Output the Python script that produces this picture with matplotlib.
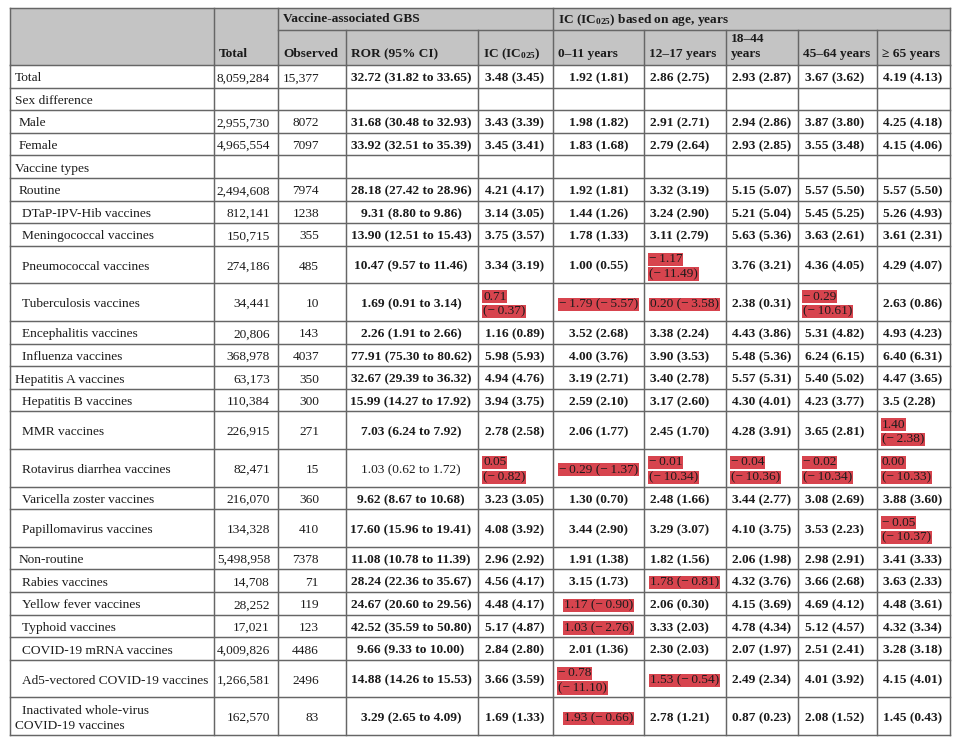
import matplotlib
matplotlib.use("Agg")
import matplotlib.pyplot as plt
from matplotlib.patches import Rectangle

plt.rcParams['font.family'] = ['Liberation Serif', 'DejaVu Serif']
plt.rcParams['mathtext.fontset'] = 'custom'
plt.rcParams['mathtext.rm'] = 'Liberation Serif'
plt.rcParams['mathtext.bf'] = 'Liberation Serif:bold'
plt.rcParams['mathtext.it'] = 'Liberation Serif:italic'

# ---------------- data ----------------
labels = ["Total", "Sex difference", "Male", "Female", "Vaccine types", "Routine",
          "DTaP-IPV-Hib vaccines", "Meningococcal vaccines", "Pneumococcal vaccines",
          "Tuberculosis vaccines", "Encephalitis vaccines", "Influenza vaccines",
          "Hepatitis A vaccines", "Hepatitis B vaccines", "MMR vaccines",
          "Rotavirus diarrhea vaccines", "Varicella zoster vaccines", "Papillomavirus vaccines",
          "Non-routine", "Rabies vaccines", "Yellow fever vaccines", "Typhoid vaccines",
          "COVID-19 mRNA vaccines", "Ad5-vectored COVID-19 vaccines",
          "Inactivated whole-virus\nCOVID-19 vaccines"]
label_level = [0, 0, 1, 1, 0, 1, 2, 2, 2, 2, 2, 2, 0, 2, 2, 2, 2, 2, 1, 2, 2, 2, 2, 2, 2]

total_reports = ["8,059,284", "", "2,955,730", "4,965,554", "", "2,494,608", "812,141", "150,715",
                 "274,186", "34,441", "20,806", "368,978", "63,173", "110,384", "226,915", "82,471",
                 "216,070", "134,328", "5,498,958", "14,708", "28,252", "17,021", "4,009,826",
                 "1,266,581", "162,570"]
observed = ["15,377", "", "8072", "7097", "", "7974", "1238", "355", "485", "10", "143", "4037",
            "350", "300", "271", "15", "360", "410", "7378", "71", "119", "123", "4486", "2496", "83"]
ror = ["32.72 (31.82 to 33.65)", "", "31.68 (30.48 to 32.93)", "33.92 (32.51 to 35.39)", "",
       "28.18 (27.42 to 28.96)", "9.31 (8.80 to 9.86)", "13.90 (12.51 to 15.43)",
       "10.47 (9.57 to 11.46)", "1.69 (0.91 to 3.14)", "2.26 (1.91 to 2.66)",
       "77.91 (75.30 to 80.62)", "32.67 (29.39 to 36.32)", "15.99 (14.27 to 17.92)",
       "7.03 (6.24 to 7.92)", "1.03 (0.62 to 1.72)", "9.62 (8.67 to 10.68)",
       "17.60 (15.96 to 19.41)", "11.08 (10.78 to 11.39)", "28.24 (22.36 to 35.67)",
       "24.67 (20.60 to 29.56)", "42.52 (35.59 to 50.80)", "9.66 (9.33 to 10.00)",
       "14.88 (14.26 to 15.53)", "3.29 (2.65 to 4.09)"]
ic = ["3.48 (3.45)", "", "3.43 (3.39)", "3.45 (3.41)", "", "4.21 (4.17)", "3.14 (3.05)",
      "3.75 (3.57)", "3.34 (3.19)", "0.71 (−0.37)", "1.16 (0.89)", "5.98 (5.93)", "4.94 (4.76)",
      "3.94 (3.75)", "2.78 (2.58)", "0.05 (−0.82)", "3.23 (3.05)", "4.08 (3.92)", "2.96 (2.92)",
      "4.56 (4.17)", "4.48 (4.17)", "5.17 (4.87)", "2.84 (2.80)", "3.66 (3.59)", "1.69 (1.33)"]
ic_0_11 = ["1.92 (1.81)", "", "1.98 (1.82)", "1.83 (1.68)", "", "1.92 (1.81)", "1.44 (1.26)",
           "1.78 (1.33)", "1.00 (0.55)", "−1.79 (−5.57)", "3.52 (2.68)", "4.00 (3.76)",
           "3.19 (2.71)", "2.59 (2.10)", "2.06 (1.77)", "−0.29 (−1.37)", "1.30 (0.70)",
           "3.44 (2.90)", "1.91 (1.38)", "3.15 (1.73)", "1.17 (−0.90)", "1.03 (−2.76)",
           "2.01 (1.36)", "−0.78 (−11.10)", "1.93 (−0.66)"]
ic_12_17 = ["2.86 (2.75)", "", "2.91 (2.71)", "2.79 (2.64)", "", "3.32 (3.19)", "3.24 (2.90)",
            "3.11 (2.79)", "−1.17 (−11.49)", "0.20 (−3.58)", "3.38 (2.24)", "3.90 (3.53)",
            "3.40 (2.78)", "3.17 (2.60)", "2.45 (1.70)", "−0.01 (−10.34)", "2.48 (1.66)",
            "3.29 (3.07)", "1.82 (1.56)", "1.78 (−0.81)", "2.06 (0.30)", "3.33 (2.03)",
            "2.30 (2.03)", "1.53 (−0.54)", "2.78 (1.21)"]
ic_18_44 = ["2.93 (2.87)", "", "2.94 (2.86)", "2.93 (2.85)", "", "5.15 (5.07)", "5.21 (5.04)",
            "5.63 (5.36)", "3.76 (3.21)", "2.38 (0.31)", "4.43 (3.86)", "5.48 (5.36)",
            "5.57 (5.31)", "4.30 (4.01)", "4.28 (3.91)", "−0.04 (−10.36)", "3.44 (2.77)",
            "4.10 (3.75)", "2.06 (1.98)", "4.32 (3.76)", "4.15 (3.69)", "4.78 (4.34)",
            "2.07 (1.97)", "2.49 (2.34)", "0.87 (0.23)"]
ic_45_64 = ["3.67 (3.62)", "", "3.87 (3.80)", "3.55 (3.48)", "", "5.57 (5.50)", "5.45 (5.25)",
            "3.63 (2.61)", "4.36 (4.05)", "−0.29 (−10.61)", "5.31 (4.82)", "6.24 (6.15)",
            "5.40 (5.02)", "4.23 (3.77)", "3.65 (2.81)", "−0.02 (−10.34)", "3.08 (2.69)",
            "3.53 (2.23)", "2.98 (2.91)", "3.66 (2.68)", "4.69 (4.12)", "5.12 (4.57)",
            "2.51 (2.41)", "4.01 (3.92)", "2.08 (1.52)"]
ic_65 = ["4.19 (4.13)", "", "4.25 (4.18)", "4.15 (4.06)", "", "5.57 (5.50)", "5.26 (4.93)",
         "3.61 (2.31)", "4.29 (4.07)", "2.63 (0.86)", "4.93 (4.23)", "6.40 (6.31)",
         "4.47 (3.65)", "3.5 (2.28)", "1.40 (−2.38)", "0.00 (−10.33)", "3.88 (3.60)",
         "−0.05 (−10.37)", "3.41 (3.33)", "3.63 (2.33)", "4.48 (3.61)", "4.32 (3.34)",
         "3.28 (3.18)", "4.15 (4.01)", "1.45 (0.43)"]

header_cols = ["", "Total", "Observed", "ROR (95% CI)", r"IC (IC$_{\mathbf{025}}$)",
               "0–11 years", "12–17 years", "18–44\nyears", "45–64 years", "≥ 65 years"]
header_groups = [("Vaccine-associated GBS", 2, 4),
                 (r"IC (IC$_{\mathbf{025}}$) based on age, years", 5, 9)]
ror_plain_rows = ["Rotavirus diarrhea vaccines"]

# ---------------- layout / style ----------------
W, H = 960, 743
fig = plt.figure(figsize=(W / 100, H / 100), dpi=100)
ax = fig.add_axes([0, 0, 1, 1])
ax.set_xlim(0, W)
ax.set_ylim(H, 0)
ax.axis('off')
renderer = fig.canvas.get_renderer()

FS = 9.6
TXT = '#1b1b1b'
LINE = '#666666'
HEAD_BG = '#c4c4c4'
HIGHLIGHT = '#d7444e'
LW = 1.05

edges = [10, 214, 278, 346, 478, 553, 644, 726, 798, 877, 950]
top, head_mid, head_bot = 8, 30, 65
row_h1, row_h2 = 22.6, 37.6
line_gap = 14.8
pad = 5
indent = [15, 19, 22]
THIN = "\u2009"

columns = [total_reports, observed, ror, ic, ic_0_11, ic_12_17, ic_18_44, ic_45_64, ic_65]
# (alignment, anchor offset from the cell's left edge / right edge)
col_align = [('right', -8), ('right', -27), ('center', -1), ('left', 7), ('center', 0),
             ('left', 6), ('left', 6), ('left', 7), ('left', 6)]


def measure(s, bold):
    t = ax.text(0, 0, s, fontsize=FS, fontweight='bold' if bold else 'normal')
    w = t.get_window_extent(renderer).width
    t.remove()
    return w


cells = []
row_lines = []
for r in range(len(labels)):
    row = []
    nmax = len(labels[r].split("\n"))
    for c, col in enumerate(columns):
        s = col[r]
        if not s:
            continue
        ci = c + 1
        neg = "(−" in s
        if c <= 1:
            bold = False
        elif c == 2:
            bold = labels[r] not in ror_plain_rows
        else:
            bold = not neg
        disp = s.replace("−", "−" + THIN)
        width = edges[ci + 1] - edges[ci]
        lines = [disp]
        align, off = col_align[c]
        if measure(disp, bold) > width - 2 * pad:
            a, b = disp.split(" (")
            lines = [a, "(" + b]
            align, off = 'left', pad
        nmax = max(nmax, len(lines))
        row.append((ci, lines, bold, neg, align, off))
    cells.append(row)
    row_lines.append(nmax)

bounds = [head_bot]
for n in row_lines:
    bounds.append(bounds[-1] + (row_h1 if n == 1 else row_h2))

# header background
ax.add_patch(Rectangle((edges[0], top), edges[-1] - edges[0], head_bot - top,
                       facecolor=HEAD_BG, edgecolor='none', zorder=0))

for ci, h in enumerate(header_cols):
    if not h:
        continue
    lines = h.split("\n")
    for k, ln in enumerate(lines):
        y = 54 - (len(lines) - 1 - k) * 15
        ax.text(edges[ci] + pad, y, ln, fontsize=FS, fontweight='bold', color=TXT,
                ha='left', va='center', zorder=3)
for title, c0, c1 in header_groups:
    ax.text(edges[c0] + pad, 19.5, title, fontsize=FS, fontweight='bold', color=TXT,
            ha='left', va='center', zorder=3)

# header lines
ax.plot([edges[0], edges[-1]], [top, top], color=LINE, lw=LW, zorder=2)
ax.plot([edges[0], edges[-1]], [head_bot, head_bot], color=LINE, lw=LW, zorder=2)
inner_group_edges = set()
for title, c0, c1 in header_groups:
    ax.plot([edges[c0], edges[c1 + 1]], [head_mid, head_mid], color=LINE, lw=LW, zorder=2)
    for e in range(c0 + 1, c1 + 1):
        inner_group_edges.add(e)
for i, x in enumerate(edges):
    y0 = head_mid if i in inner_group_edges else top
    ax.plot([x, x], [y0, head_bot], color=LINE, lw=LW, zorder=2)

# body lines
for yb in bounds[1:]:
    ax.plot([edges[0], edges[-1]], [yb, yb], color=LINE, lw=LW, zorder=2)
for x in edges:
    ax.plot([x, x], [head_bot, bounds[-1]], color=LINE, lw=LW, zorder=2)

# body text
for r in range(len(labels)):
    yc = (bounds[r] + bounds[r + 1]) / 2 + 2
    lab_lines = labels[r].split("\n")
    n = len(lab_lines)
    for k, ln in enumerate(lab_lines):
        y = yc + (k - (n - 1) / 2) * line_gap
        x = indent[label_level[r]] if k == 0 else indent[0]
        ax.text(x, y, ln, fontsize=FS, color=TXT, ha='left', va='center', zorder=3)
    for ci, lines, bold, neg, align, off in cells[r]:
        n = len(lines)
        if align == 'left':
            x = edges[ci] + off
        elif align == 'right':
            x = edges[ci + 1] + off
        else:
            x = (edges[ci] + edges[ci + 1]) / 2 + off
        for k, ln in enumerate(lines):
            y = yc + (k - (n - 1) / 2) * line_gap
            kw = {}
            if neg:
                kw['bbox'] = dict(boxstyle='square,pad=0.05', facecolor=HIGHLIGHT,
                                  edgecolor='none')
            ax.text(x, y, ln, fontsize=FS, fontweight='bold' if bold else 'normal',
                    color=TXT, ha=align, va='center', zorder=3, **kw)

fig.savefig("out.png", dpi=100, facecolor='white')
